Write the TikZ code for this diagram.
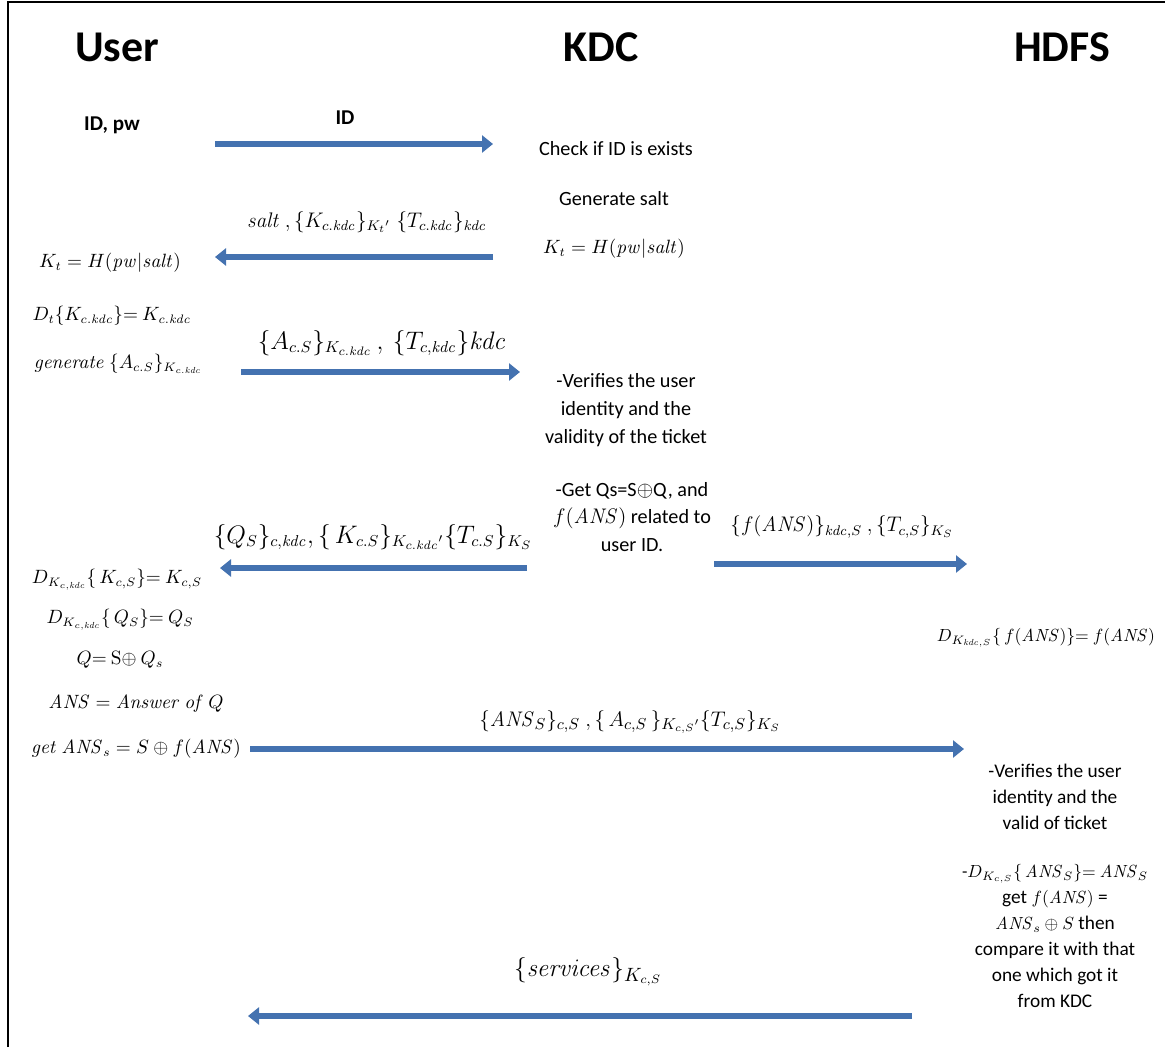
\documentclass[tikz,border=0pt]{standalone}
\usepackage[no-math]{fontspec}
\setmainfont{Carlito}
\usetikzlibrary{arrows.meta}
\definecolor{msgblue}{RGB}{68,114,176}

\begin{document}
\begin{tikzpicture}[x=0.02cm,y=-0.02cm,
  actor/.style={font=\fontsize{25}{30}\selectfont\bfseries},
  txt/.style={font=\fontsize{11.5}{15.9}\selectfont,align=center,inner sep=1pt},
  eq/.style={txt,font=\fontsize{10.5}{14}\selectfont},
  small/.style={txt,font=\fontsize{11}{14.8}\selectfont},
  big/.style={font=\fontsize{13.5}{16}\selectfont,inner sep=1pt},
  msg/.style={msgblue,line width=0.12cm,-{Triangle[length=0.22cm,width=0.34cm]}}]
\useasboundingbox (0,0) rectangle (1165,1047);
\draw[line width=1.7pt] (8,1047) -- (8,2) -- (1165,2);
% the three parties
\node[actor] (user) at (117,47) {User};
\node[actor] (kdc) at (601,47) {KDC};
\node[actor] (hdfs) at (1062,47) {HDFS};
% user side
\node[txt,font=\fontsize{12}{14}\selectfont\bfseries] (idpw) at (112,125) {ID, pw};
\node[eq] (ukt) at (110,263) {$K_t = H(\mathit{pw}|\mathit{salt})$};
\node[eq] (udt) at (112,316) {$D_t\{K_{c.\mathit{kdc}}\}{=}\ K_{c.\mathit{kdc}}$};
\node[eq] (ugen) at (118,364) {$\mathit{generate}\ \{A_{c.S}\}_{K_{c.\mathit{kdc}}}$};
\node[eq] (udk) at (117,580) {$D_{K_{c,\mathit{kdc}}}\{\,K_{c,S}\}{=}\ K_{c,S}$};
\node[eq] (udq) at (120,620) {$D_{K_{c,\mathit{kdc}}}\{\,Q_S\}{=}\ Q_S$};
\node[eq] (uq) at (120,660) {$Q{=}\ \mathrm{S}{\oplus}\ Q_s$};
\node[eq] (uans) at (136,704) {$\mathit{ANS} = \mathit{Answer\ of}\ Q$};
\node[eq] (uget) at (136,749) {$\mathit{get}\ \mathit{ANS}_s = S \oplus f(\mathit{ANS})$};
% kdc side
\node[txt] (kchk) at (616,149) {Check if ID is exists};
\node[txt] (ksalt) at (614,199) {Generate salt};
\node[eq] (kkt) at (614,249) {$K_t = H(\mathit{pw}|\mathit{salt})$};
\node[txt] (kver) at (626,410) {-Verifies the user\\identity and the\\validity of the ticket};
\node[txt] (kget) at (632,517) {-Get Qs=S$\oplus$Q, and\\$f(\mathit{ANS})$ related to\\user ID.};
% hdfs side
\node[eq,font=\fontsize{10}{14}\selectfont] (hdec) at (1046,638) {$D_{K_{\mathit{kdc},S}}\{\,f(\mathit{ANS})\}{=}\ f(\mathit{ANS})$};
\node[small] (hver) at (1055,797) {-Verifies the user\\identity and the\\valid of ticket};
\node[small] (hcmp) at (1055,936) {{\fontsize{10}{14.8}\selectfont-$D_{K_{c,S}}\{\,\mathit{ANS}_S\}{=}\ \mathit{ANS}_S$}\\get {\fontsize{10}{14.8}\selectfont$f(\mathit{ANS})$} =\\{\fontsize{10}{14.8}\selectfont$\mathit{ANS}_s \oplus S$} then\\compare it with that\\one which got it\\from KDC};
% message labels
\node[txt,font=\fontsize{12}{14}\selectfont\bfseries] (m1) at (345,118) {ID};
\node[txt] (m2) at (367,222) {$\mathit{salt}\ ,\{K_{c.\mathit{kdc}}\}_{K_t{}'}\;\{T_{c.\mathit{kdc}}\}_{\mathit{kdc}}$};
\node[big] (m3) at (382,343) {$\{A_{c.S}\}_{K_{c.\mathit{kdc}}}\,,\ \{T_{c,\mathit{kdc}}\}\mathit{kdc}$};
\node[big] (m4) at (373,537) {$\{Q_S\}_{c,\mathit{kdc}},\{\,K_{c.S}\}_{K_{c.\mathit{kdc}}{}'}\{T_{c.S}\}_{K_S}$};
\node[big,font=\fontsize{12}{15}\selectfont] (m5) at (842,527) {$\{f(\mathit{ANS})\}_{\mathit{kdc},S}\ ,\{T_{c,S}\}_{K_S}$};
\node[big,font=\fontsize{13}{16}\selectfont] (m6) at (630,722) {$\{\mathit{ANS}_S\}_{c,S}\ ,\{\,A_{c,S}\,\}_{K_{c,S}{}'}\{T_{c,S}\}_{K_S}$};
\node[big,font=\fontsize{15}{18}\selectfont] (m7) at (588,972) {$\{\mathit{services}\}_{K_{c,S}}$};
% arrow ends
\coordinate (a1s) at (215,144);  \coordinate (a1e) at (493,144);
\coordinate (a2s) at (493,257);  \coordinate (a2e) at (215,257);
\coordinate (a3s) at (241,372);  \coordinate (a3e) at (520,372);
\coordinate (a4s) at (527,568);  \coordinate (a4e) at (220,568);
\coordinate (a5s) at (714,564);  \coordinate (a5e) at (967,564);
\coordinate (a6s) at (250,749);  \coordinate (a6e) at (964,749);
\coordinate (a7s) at (912,1016); \coordinate (a7e) at (248,1016);
\foreach \s/\e in {a1s/a1e,a2s/a2e,a3s/a3e,a4s/a4e,a5s/a5e,a6s/a6e,a7s/a7e}
  \draw[msg] (\s) -- (\e);
\end{tikzpicture}
\end{document}
